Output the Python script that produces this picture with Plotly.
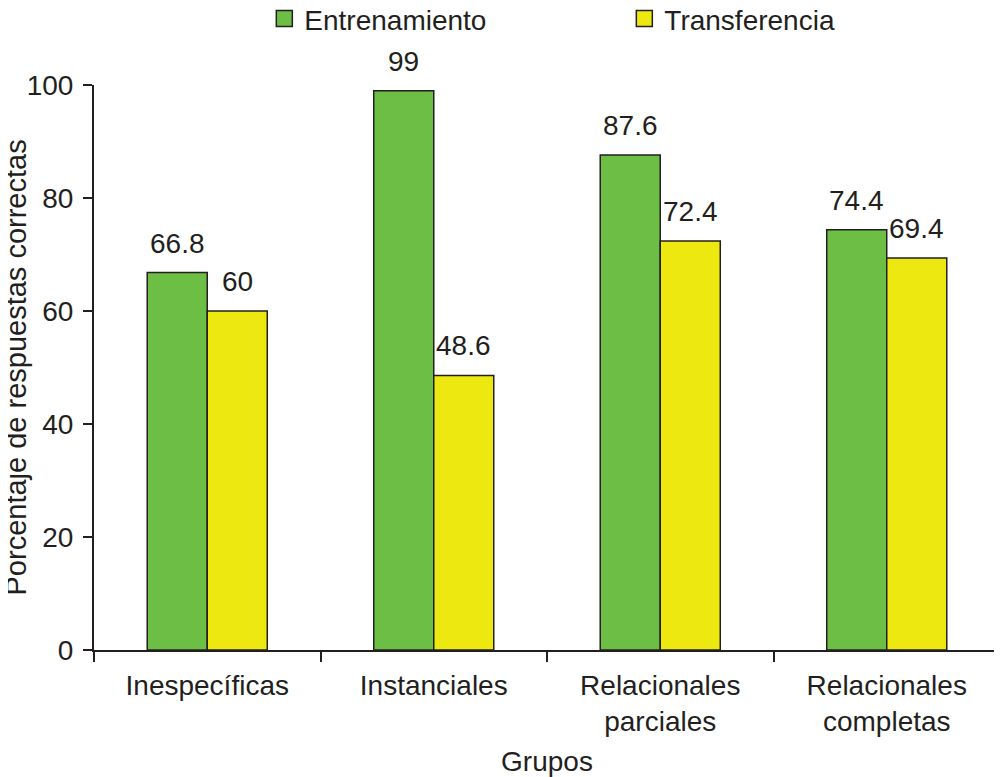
import plotly.graph_objects as go

categories = ["Inespecíficas", "Instanciales", "Relacionales<br>parciales", "Relacionales<br>completas"]
entrenamiento = [66.8, 99, 87.6, 74.4]
transferencia = [60, 48.6, 72.4, 69.4]
ent_labels = ["66.8", "99", "87.6", "74.4"]
tra_labels = ["60", "48.6", "72.4", "69.4"]
y_ticks = [0, 20, 40, 60, 80, 100]

ink = "#231F20"
green = "#6DBE45"
yellow = "#EEE811"
font = "Liberation Sans, Arial, sans-serif"
fs = 28

fig = go.Figure()
fig.add_trace(go.Bar(
    x=categories, y=entrenamiento, name="Entrenamiento", showlegend=False,
    marker=dict(color=green, line=dict(color=ink, width=1.5)),
))
fig.add_trace(go.Bar(
    x=categories, y=transferencia, name="Transferencia", showlegend=False,
    marker=dict(color=yellow, line=dict(color=ink, width=1.5)),
))
# legend entries with larger square swatches
for nm, col in [("Entrenamiento", green), ("Transferencia", yellow)]:
    fig.add_trace(go.Scatter(
        x=[None], y=[None], mode="markers", name=nm,
        marker=dict(symbol="square", size=16, color=col, line=dict(color=ink, width=1.5)),
    ))

# value labels above bars, placed through the data scales
for vals, labs, shift in [(entrenamiento, ent_labels, -30), (transferencia, tra_labels, 30)]:
    for c, v, t in zip(categories, vals, labs):
        fig.add_annotation(x=c, y=v, text=t, showarrow=False, xshift=shift,
                           yanchor="bottom", yshift=12,
                           font=dict(size=fs, color=ink, family=font))

# y-axis title
fig.add_annotation(x=0, xref="paper", y=0.5, yref="paper", xshift=-79,
                   text="Porcentaje de respuestas correctas", textangle=-90,
                   showarrow=False, xanchor="center", yanchor="middle",
                   font=dict(size=29, color=ink, family=font))

# page has an 8px body margin, so the figure is 8px smaller
fig.update_layout(
    width=994, height=769,
    margin=dict(l=86, r=2, t=77, b=127, autoexpand=False),
    paper_bgcolor="white", plot_bgcolor="white",
    barmode="group", bargap=0.47, bargroupgap=0,
    font=dict(family=font, size=fs, color=ink),
    legend=dict(orientation="h", x=0.188, xanchor="left", y=1.1612, yanchor="top",
                font=dict(size=fs, color=ink), entrywidth=315, entrywidthmode="pixels",
                itemsizing="trace", bgcolor="rgba(0,0,0,0)"),
    showlegend=True,
)
fig.update_xaxes(
    automargin=False,
    showline=True, linecolor=ink, linewidth=2,
    ticks="outside", tickson="boundaries", ticklen=10, tickwidth=2, tickcolor=ink,
    tickfont=dict(size=fs, color=ink), ticklabelstandoff=9,
    title=dict(text="Grupos", font=dict(size=fs, color=ink), standoff=17),
    showgrid=False,
)
fig.update_yaxes(
    automargin=False,
    range=[0, 100], showline=True, linecolor=ink, linewidth=2,
    ticks="outside", ticklen=9, tickwidth=2, tickcolor=ink,
    tickvals=y_ticks, ticktext=[str(v) for v in y_ticks],
    tickfont=dict(size=fs, color=ink), ticklabelstandoff=4,
    showgrid=False, zeroline=False,
)

fig.write_html("out.html")
